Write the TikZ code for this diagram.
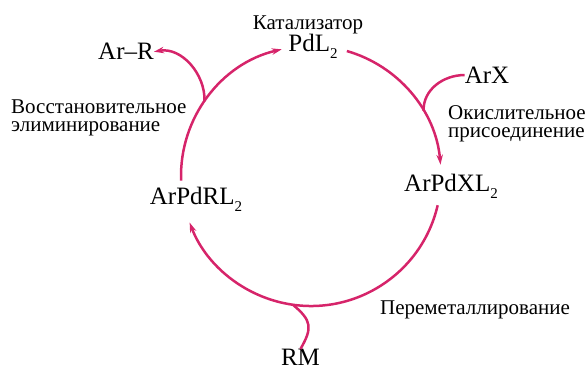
\documentclass[tikz,border=0pt]{standalone}
\usepackage{fontspec}
\setmainfont{Liberation Serif}
\usetikzlibrary{arrows.meta}
\definecolor{cyclered}{RGB}{214,36,106}
\newcommand{\lowsub}[1]{\raisebox{-0.55ex}{\fontsize{15}{15}\selectfont #1}}

\begin{document}
\begin{tikzpicture}[x=1pt,y=1pt,
  cycleline/.style={cyclered, line width=2.5pt},
  cyclearrow/.style={cycleline, -{Stealth[length=10pt,width=6.5pt]}},
  compound/.style={font=\fontsize{25}{25}\selectfont, inner sep=0pt, anchor=base},
  steptext/.style={font=\fontsize{21}{18.5}\selectfont, inner sep=0pt, align=left, anchor=base west}]
\useasboundingbox (0,0) rectangle (588,369);
% centre of the cycle
\coordinate (cyc) at (311,193);

% compounds
\node[steptext, anchor=base] (cat) at (308,339.7) {Катализатор};
\node[compound] (pd) at (313,317.3) {PdL\lowsub{2}};
\node[compound] (arx) at (487,285.7) {ArX};
\node[compound] (pdx) at (451,177.3) {ArPdXL\lowsub{2}};
\node[compound] (pdr) at (196,164) {ArPdRL\lowsub{2}};
\node[compound] (rm) at (300.5,3.5) {RM};
\node[compound] (arr) at (126,309) {Ar--R};

% step names (base = last line)
\node[steptext] (oxadd) at (448,231) {Окислительное\\присоединение};
\node[steptext] (redel) at (11,237.3) {Восстановительное\\элиминирование};
\node[steptext, anchor=base] (trans) at (475,54) {Переметаллирование};

% points where side branches meet the cycle
\coordinate (jar) at ([shift={(145:130)}]cyc);
\coordinate (jarx) at ([shift={(30:130)}]cyc);
\coordinate (jrm) at ([shift={(-98:130)}]cyc);

% cycle arcs
\draw[cyclearrow] ([shift={(182:130)}]cyc) arc[start angle=182, end angle=103, radius=130];
\draw[cyclearrow] ([shift={(74:130)}]cyc) arc[start angle=74, end angle=5, radius=130];
\draw[cyclearrow] ([shift={(-13:130)}]cyc) arc[start angle=-13, end angle=-159, radius=130];

% side branches
\draw[cyclearrow] (jar) to[out=88, in=10] (arr.east);
\draw[cycleline] (arx.west) to[out=180, in=92] (jarx);
\draw[cycleline] (rm.north) to[out=60, in=-40, looseness=1.4] (jrm);
\end{tikzpicture}
\end{document}
